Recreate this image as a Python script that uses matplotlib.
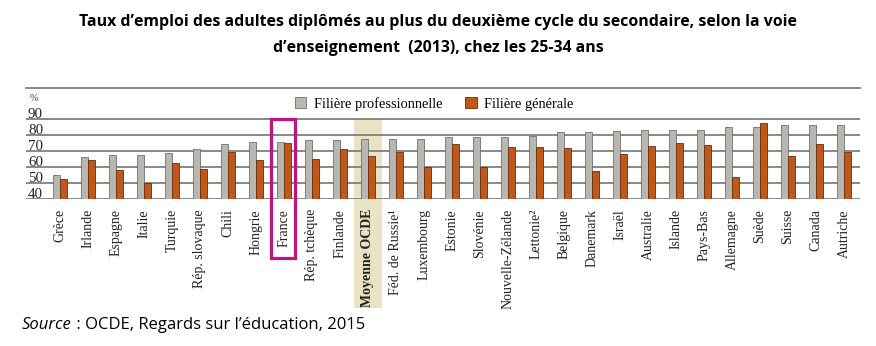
import matplotlib
matplotlib.use("Agg")
import matplotlib.pyplot as plt
from matplotlib.patches import Patch, Rectangle
import numpy as np

COUNTRIES = [
    "Grèce", "Irlande", "Espagne", "Italie", "Turquie", "Rép. slovaque",
    "Chili", "Hongrie", "France", "Rép. tchèque", "Finlande", "Moyenne OCDE",
    "Féd. de Russie¹", "Luxembourg", "Estonie", "Slovénie", "Nouvelle-Zélande",
    "Lettonie²", "Belgique", "Danemark", "Israël", "Australie", "Islande",
    "Pays-Bas", "Allemagne", "Suède", "Suisse", "Canada", "Autriche",
]
PRO = [55.2, 66.3, 67.9, 67.9, 69.0, 71.2, 74.5, 75.6, 76.0, 77.2, 77.2, 77.6,
       78.0, 78.0, 78.7, 79.1, 79.1, 79.7, 82.0, 82.2, 82.4, 83.4, 83.4, 83.6,
       85.3, 85.3, 86.5, 86.5, 86.7]
GEN = [52.7, 64.8, 58.2, 50.0, 62.8, 59.1, 69.6, 64.6, 74.9, 65.5, 71.4, 66.9,
       69.4, 60.1, 74.7, 60.1, 72.5, 72.9, 72.1, 57.8, 68.1, 73.3, 75.1, 74.1,
       54.1, 87.5, 67.3, 74.5, 69.8]
YTICKS = [40, 50, 60, 70, 80, 90]
LEGEND = ["Filière professionnelle", "Filière générale"]

GRAY = "#b8b8b0"
ORANGE = "#c0571b"
LINE = "#7f7f7f"
SERIF = "Liberation Serif"

fig = plt.figure(figsize=(8.76, 3.46), dpi=100)
ax = fig.add_axes([26 / 876, 1 - 199.3 / 346, 834 / 876, (199.3 - 88.3) / 346])

x = np.arange(len(COUNTRIES))
w = 0.26
ax.set_xlim(-1.21, len(COUNTRIES) - 1 + 0.57)
ax.set_ylim(40, 109.4)

# OCDE average background band (goes below the axes, behind the labels)
i_oc = COUNTRIES.index("Moyenne OCDE")
ax.add_patch(Rectangle((i_oc - 0.5, -28), 1.0, 118, facecolor="#eae3c3",
                       edgecolor="none", clip_on=False, zorder=0))

for v in YTICKS:
    ax.axhline(v, color=LINE, lw=1.3, zorder=1)
    ax.text(-1.14, v + 0.8, str(v), family=SERIF, fontsize=10.8,
            ha="left", va="baseline", color="#222222")
ax.text(-0.93, 103.3, "%", family=SERIF, fontsize=7.5, ha="center", va="center",
        color="#333333")

ax.bar(x - w / 2, PRO, w, bottom=0, color=GRAY, edgecolor="#6f6f6f", lw=0.6, zorder=2)
ax.bar(x + w / 2, GEN, w, bottom=0, color=ORANGE, edgecolor="#6a2c08", lw=0.6, zorder=2)

# France highlight frame
i_fr = COUNTRIES.index("France")
ax.add_patch(Rectangle((i_fr - 0.45, 3.4), 0.86, 87.1, facecolor="none",
                       edgecolor="#c0147a", lw=2.3, clip_on=False, zorder=4))

for s in ["left", "right", "bottom"]:
    ax.spines[s].set_visible(False)
ax.spines["top"].set_color(LINE)
ax.spines["top"].set_linewidth(1.3)

ax.set_xticks(x)
ax.set_xticklabels(COUNTRIES, rotation=90, family=SERIF, fontsize=10, va="top")
for lab in ax.get_xticklabels():
    if lab.get_text() == "Moyenne OCDE":
        lab.set_fontweight("bold")
ax.tick_params(axis="x", length=0, pad=7, colors="#222222")
ax.set_yticks([])

handles = [Patch(facecolor=GRAY, edgecolor="#6f6f6f", lw=0.6),
           Patch(facecolor=ORANGE, edgecolor="#6a2c08", lw=0.6)]
fig.legend(handles, LEGEND, loc="center", bbox_to_anchor=(434 / 876, 1 - 104 / 346),
           ncol=2, frameon=False, handlelength=0.8, handleheight=0.8,
           handletextpad=0.5, columnspacing=1.6,
           prop={"family": SERIF, "size": 10.4})

fig.text(0.5, 1 - 22 / 346, "Taux d\u2019emploi des adultes diplômés au plus du deuxième cycle du secondaire, selon la voie",
         ha="center", va="center", family="Open Sans", fontweight="bold", fontsize=11.4)
fig.text(0.5, 1 - 48 / 346, "d\u2019enseignement  (2013), chez les 25-34 ans",
         ha="center", va="center", family="Open Sans", fontweight="bold", fontsize=11.4)

t1 = fig.text(22 / 876, 1 - 325 / 346, "Source", style="italic", family="Open Sans",
              fontsize=12, va="center", ha="left")
fig.canvas.draw()
bb = t1.get_window_extent()
fig.text(bb.x1 / 876, 1 - 325 / 346, " : OCDE, Regards sur l\u2019éducation, 2015",
         family="Open Sans", fontsize=12, va="center", ha="left")

fig.savefig("out.png", dpi=100)
